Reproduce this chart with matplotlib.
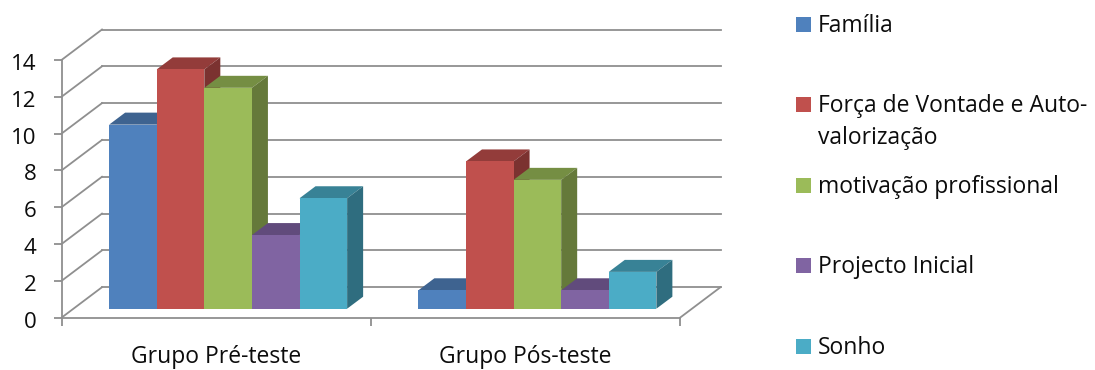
import matplotlib
matplotlib.use('Agg')
import matplotlib.pyplot as plt
import numpy as np
from matplotlib.patches import Polygon, Rectangle
from matplotlib.transforms import ScaledTranslation

plt.rcParams['font.family'] = ['Open Sans', 'DejaVu Sans']

groups = ['Grupo Pré-teste', 'Grupo Pós-teste']
familia = [10, 1]
forca = [13, 8]
motivacao = [12, 7]
projecto = [4, 1]
sonho = [6, 2]
series_labels = ['Família', 'Força de Vontade e Auto-\nvalorização', 'motivação profissional',
                 'Projecto Inicial', 'Sonho']
y_ticks = [0, 2, 4, 6, 8, 10, 12, 14]

front = ['#4f81bd', '#c0504d', '#9bbb59', '#8064a2', '#4bacc6']
top = ['#3e6390', '#933c3a', '#758e43', '#614b7c', '#388296']
side = ['#345478', '#7b3230', '#65793a', '#523f68', '#2f6d7f']
GRID = '#8f8f8f'
TEXT = '#0c0c0c'
W, H = 1095, 370

fig = plt.figure(figsize=(W / 100, H / 100), dpi=100)
ax = fig.add_axes([61.5 / W, 1 - 317.7 / H, 618.5 / W, 257.7 / H])
ax.set_xlim(0, 2)
ax.set_ylim(0, 14)

# sizes of one data unit in pixels, used to turn the 3d offsets into data units
xu = 618.5 / 2
yu = 257.7 / 14
wall_x, wall_y = 40.5 / xu, 30.5 / yu
depth_x, depth_y = 16 / xu, 12 / yu
shift_x, shift_y = 12 / xu, 9 / yu
bar_w = 47.6 / xu

# back wall, floor edge and the diagonals joining them to the axis
for v in y_ticks:
    ax.plot([wall_x, 2 + wall_x], [v + wall_y, v + wall_y], color=GRID, lw=1.3, clip_on=False, zorder=1)
    ax.plot([0, wall_x], [v, v + wall_y], color=GRID, lw=1.3, clip_on=False, zorder=1)
ax.plot([2, 2 + wall_x], [0, wall_y], color=GRID, lw=1.3, clip_on=False, zorder=1)

series = [familia, forca, motivacao, projecto, sonho]
for g in range(len(groups)):
    start = g + 0.5 - 2.5 * bar_w + shift_x
    for i, values in enumerate(series):
        v = values[g]
        x0 = start + i * bar_w
        x1 = x0 + bar_w
        y0 = shift_y
        y1 = v + shift_y
        z = 3 + g * 10 + i
        ax.bar(x0, v, bar_w, bottom=y0, align='edge', color=front[i], clip_on=False, zorder=z + 0.2)
        ax.add_patch(Polygon([(x0, y1), (x1, y1), (x1 + depth_x, y1 + depth_y), (x0 + depth_x, y1 + depth_y)],
                             closed=True, fc=top[i], ec='none', clip_on=False, zorder=z))
        ax.add_patch(Polygon([(x1, y0), (x1 + depth_x, y0 + depth_y), (x1 + depth_x, y1 + depth_y), (x1, y1)],
                             closed=True, fc=side[i], ec='none', clip_on=False, zorder=z))

for s in ['top', 'right']:
    ax.spines[s].set_visible(False)
for s in ['left', 'bottom']:
    ax.spines[s].set_color(GRID)
    ax.spines[s].set_linewidth(1.3)
    ax.spines[s].set_zorder(2)

ax.set_yticks(y_ticks)
ax.tick_params(axis='y', length=6, width=1.3, color=GRID, labelsize=16, pad=12, labelcolor=TEXT)
# nudge the value labels down a little so they sit on their ticks
nudge = ScaledTranslation(0, -2 / 100, fig.dpi_scale_trans)
for lab in ax.get_yticklabels():
    lab.set_transform(lab.get_transform() + nudge)
ax.set_xticks([0, 1, 2])
ax.set_xticklabels([])
ax.tick_params(axis='x', which='major', length=5.5, width=1.3, color=GRID)
ax.set_xticks([0.5, 1.5], groups, minor=True)
ax.tick_params(axis='x', which='minor', length=0, labelsize=16.5, pad=20, labelcolor=TEXT)

# legend is laid out by hand because the wrapped entry breaks the even spacing
swatch_y = [24.5, 104.5, 185.5, 265.5, 346.5]
baselines = [32, 111.7, 192.7, 273.3, 354]
for i, label in enumerate(series_labels):
    fig.add_artist(Rectangle((796 / W, 1 - (swatch_y[i] + 7.5) / H), 15 / W, 15 / H, fc=front[i], ec='none',
                             transform=fig.transFigure))
    for n, line in enumerate(label.split('\n')):
        fig.text(818 / W, 1 - (baselines[i] + n * 32.6) / H, line, fontsize=16.5, color=TEXT,
                 ha='left', va='baseline')

plt.savefig('out.png', dpi=100)
